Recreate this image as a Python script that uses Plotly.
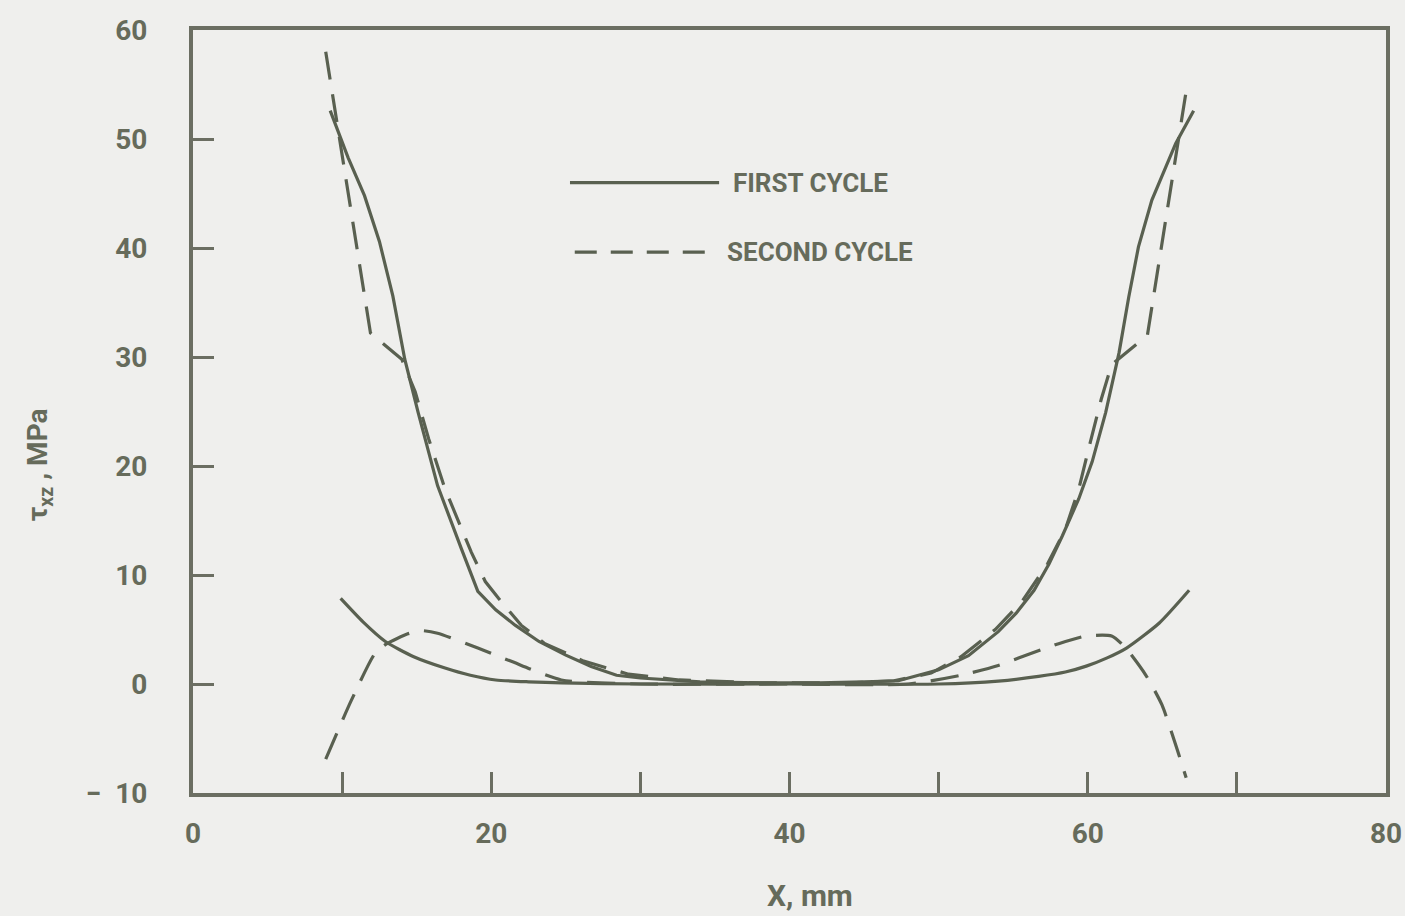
import plotly.graph_objects as go

# ---- data ----
first_upper_x = [9.2, 10.4, 11.5, 12.5, 13.4, 14.2, 15.1, 16.4, 18.0, 19.1, 20.3, 21.6, 23.2, 25.0, 26.7, 28.4,
                 30.0, 31.7, 34.0, 38.0, 42.0, 45.0, 47.3, 50.0, 52.0, 54.0, 55.2, 56.4, 57.4, 58.3, 59.4,
                 60.3, 61.2, 62.1, 62.75, 63.4, 64.3, 65.9, 67.1]
first_upper_y = [52.6, 48.3, 44.8, 40.6, 35.6, 29.8, 24.9, 18.2, 12.4, 8.5, 6.8, 5.4, 3.9, 2.65, 1.6, 0.8,
                 0.55, 0.4, 0.2, 0.1, 0.1, 0.2, 0.3, 1.3, 2.6, 4.8, 6.5, 8.6, 11.0, 13.6, 17.0,
                 20.4, 24.9, 30.4, 35.5, 40.1, 44.4, 49.6, 52.6]

first_lower_x = [9.9, 11.4, 12.9, 14.8, 16.9, 18.6, 20.3, 22.5, 24.7, 30.0, 40.0, 50.0, 54.0, 56.7, 58.5, 59.9,
                 61.3, 62.6, 64.8, 66.8]
first_lower_y = [7.85, 5.7, 3.9, 2.5, 1.46, 0.8, 0.37, 0.2, 0.1, 0.0, 0.0, 0.0, 0.27, 0.7, 1.1, 1.64,
                 2.4, 3.3, 5.6, 8.6]

second_upper_x = [8.9, 11.9, 14.0, 14.9, 15.8, 16.9, 18.66, 19.6, 20.5, 22.0, 23.6, 26.2, 29.2, 32.6, 38.0, 44.0,
                  47.0, 49.5, 51.5, 53.8, 55.6, 57.3, 58.5, 59.4, 60.1, 60.9, 61.6, 64.0, 66.6]
second_upper_y = [58.0, 32.2, 29.8, 26.8, 22.5, 17.9, 12.1, 9.4, 7.85, 5.4, 3.7, 2.1, 0.9, 0.37, 0.1, 0.1,
                  0.3, 1.0, 2.5, 5.0, 7.6, 11.0, 14.2, 17.9, 21.8, 26.1, 29.3, 32.0, 54.4]

second_lower_x = [8.9, 10.6, 12.2, 13.0, 14.4, 15.3, 16.4, 19.1, 21.3, 24.7, 30.0, 40.0, 48.0, 51.5, 54.0,
                  55.4, 58.05, 59.9, 61.6, 62.55, 63.9, 64.97, 65.9, 66.6]
second_lower_y = [-6.9, -1.55, 2.8, 3.7, 4.6, 4.9, 4.66, 3.3, 2.1, 0.37, 0.0, 0.0, 0.0, 0.8, 1.7,
                  2.4, 3.7, 4.4, 4.4, 3.3, 0.8, -1.9, -5.6, -8.6]

x_tickvals = [0, 10, 20, 30, 40, 50, 60, 70, 80]
x_ticktext = ["0", "", "20", "", "40", "", "60", "", "80"]
y_tickvals = [-10, 0, 10, 20, 30, 40, 50, 60]
y_ticktext = ["\u2212  10", "0", "10", "20", "30", "40", "50", "60"]

legend_names = ["FIRST CYCLE", "SECOND CYCLE"]

# ---- style ----
BG = "#efefed"
LINE = "#596050"
AXIS = "#6b6e62"
TEXT = "#666b5b"
FONT = "Roboto, Liberation Sans Narrow, DejaVu Sans Condensed, sans-serif"
DASH = "28px,15px"


def bold(items):
    return ["<b>" + t + "</b>" if t else "" for t in items]


fig = go.Figure()
for xs, ys, dash, shape in [(first_upper_x, first_upper_y, "solid", "linear"),
                            (first_lower_x, first_lower_y, "solid", "spline"),
                            (second_upper_x, second_upper_y, DASH, "linear"),
                            (second_lower_x, second_lower_y, DASH, "spline")]:
    fig.add_trace(go.Scatter(x=xs, y=ys, mode="lines", showlegend=False,
                             line=dict(color=LINE, width=3.2, dash=dash, shape=shape,
                                       smoothing=0.6 if shape == "spline" else None)))

axis_common = dict(showgrid=False, zeroline=False, showline=True, linecolor=AXIS, linewidth=4,
                   mirror=True, ticks="inside", ticklen=21, tickwidth=3, tickcolor=AXIS,
                   automargin=False,
                   tickfont=dict(family=FONT, size=28, color=TEXT))

fig.update_layout(
    width=1405, height=916,
    margin=dict(l=193, r=19, t=30, b=123),
    paper_bgcolor=BG, plot_bgcolor=BG,
    showlegend=False,
    xaxis=dict(range=[0, 80], tickmode="array", tickvals=x_tickvals, ticktext=bold(x_ticktext),
               ticklabelstandoff=12, **axis_common),
    yaxis=dict(range=[-10, 60], tickmode="array", tickvals=y_tickvals, ticktext=bold(y_ticktext),
               ticklabelstandoff=36, **axis_common),
)

# custom legend (line samples + labels) inside the plot area
fig.add_shape(type="line", xref="paper", yref="paper", x0=0.316, x1=0.441, y0=0.8, y1=0.8,
              line=dict(color=LINE, width=3.2))
fig.add_shape(type="line", xref="paper", yref="paper", x0=0.32, x1=0.431, y0=0.709, y1=0.709,
              line=dict(color=LINE, width=3.2, dash="22px,14px"))
fig.add_annotation(xref="paper", yref="paper", x=0.451, y=0.8, xanchor="left", yanchor="middle",
                   text="<b>" + legend_names[0] + "</b>", showarrow=False,
                   font=dict(family=FONT, size=26, color=TEXT))
fig.add_annotation(xref="paper", yref="paper", x=0.446, y=0.709, xanchor="left", yanchor="middle",
                   text="<b>" + legend_names[1] + "</b>", showarrow=False,
                   font=dict(family=FONT, size=26, color=TEXT))

# axis titles
fig.add_annotation(xref="paper", yref="paper", x=0.517, y=-0.134, xanchor="center", yanchor="middle",
                   text="<b>X, mm</b>", showarrow=False, font=dict(family=FONT, size=30, color=TEXT))
fig.add_annotation(xref="paper", yref="paper", x=-0.128, y=0.43, xanchor="center", yanchor="middle",
                   textangle=-90, text="<b>\u03c4<sub>xz</sub> , MPa</b>", showarrow=False,
                   font=dict(family=FONT, size=28, color=TEXT))

fig.write_html("out.html")
